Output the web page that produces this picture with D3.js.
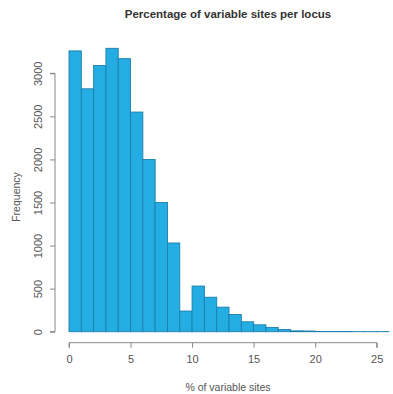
<!DOCTYPE html>
<html><head><meta charset="utf-8">
<script src="https://cdn.jsdelivr.net/npm/d3@7"></script>
<style>body{margin:0;background:#fff}svg{display:block}</style>
</head><body>
<script>
const binEdges = [0,1,2,3,4,5,6,7,8,9,10,11,12,13,14,15,16,17,18,19,20,21,22,23,24,25,26];
const counts = [3260,2820,3090,3290,3170,2550,2000,1500,1030,240,530,400,285,200,115,80,50,25,10,8,3,2,2,1,1,1];
const xTicks = [0,5,10,15,20,25];
const yTicks = [0,500,1000,1500,2000,2500,3000];
const title = "Percentage of variable sites per locus";
const xLabel = "% of variable sites";
const yLabel = "Frequency";

const W = 393, H = 394;
const svg = d3.select("body").append("svg").attr("width", W).attr("height", H);
const x = d3.scaleLinear().domain([0,25]).range([69,376.7]);
const y = d3.scaleLinear().domain([0,3000]).range([331.7,73.3]);
const font = "'Liberation Sans', Arial, Helvetica, sans-serif";

const bins = counts.map((c,i)=>({x0:binEdges[i], x1:binEdges[i+1], c}));
svg.append("g").selectAll("rect").data(bins).join("rect")
  .attr("x", d=>x(d.x0)).attr("width", d=>x(d.x1)-x(d.x0))
  .attr("y", d=>y(d.c)).attr("height", d=>y(0)-y(d.c))
  .attr("fill", "#24ade3").attr("stroke", "#1d7fab").attr("stroke-width", 0.9);

// x axis
const xa = svg.append("g").attr("transform","translate(0,342.7)")
  .call(d3.axisBottom(x).tickValues(xTicks).tickFormat(d3.format("d")).tickSize(5).tickPadding(8));
xa.select(".domain").attr("stroke","#888").attr("d", `M${x(0)},5V0H${x(25)}V5`);
xa.selectAll(".tick line").attr("stroke","#888");
xa.selectAll(".tick text").attr("fill","#555").attr("font-size", 11).attr("font-family", font);

// y axis
const ya = svg.append("g").attr("transform","translate(55,0)")
  .call(d3.axisLeft(y).tickValues(yTicks).tickFormat(d3.format("d")).tickSize(5).tickPadding(0));
ya.select(".domain").attr("stroke","#888").attr("d", `M-5,${y(0)}H0V${y(3000)}H-5`);
ya.selectAll(".tick line").attr("stroke","#888");
ya.selectAll(".tick text").attr("fill","#555").attr("font-size", 11).attr("font-family", font)
  .attr("x", 0).attr("dy", 0).attr("text-anchor","middle")
  .attr("transform","translate(-13,0) rotate(-90)");

svg.append("text").attr("x", 228).attr("y", 18).attr("text-anchor","middle")
  .attr("font-family", font).attr("font-weight","bold").attr("font-size", 11.5).attr("fill","#333")
  .text(title);
svg.append("text").attr("x", 228).attr("y", 391).attr("text-anchor","middle")
  .attr("font-family", font).attr("font-size", 10.5).attr("fill","#555").text(xLabel);
svg.append("text").attr("transform","translate(20,197) rotate(-90)").attr("text-anchor","middle")
  .attr("font-family", font).attr("font-size", 10.5).attr("fill","#555").text(yLabel);
</script>
</body></html>
